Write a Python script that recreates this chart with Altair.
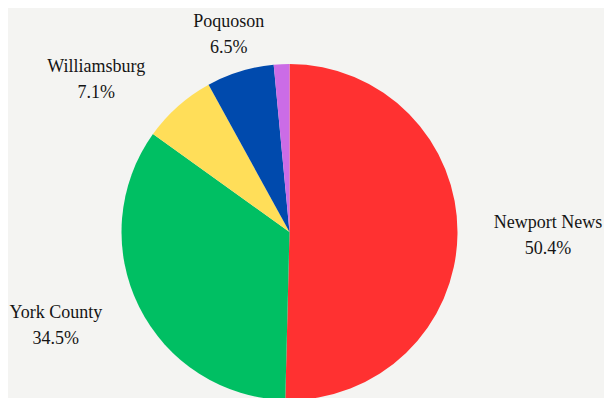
import math
import altair as alt
import pandas as pd

# ---- data ----
categories = ["Newport News", "York County", "Williamsburg", "Poquoson", "Other"]
shares = [50.4, 34.5, 7.1, 6.5, 1.5]
slice_order = [0, 1, 2, 3, 4]

colors = ["#FF3131", "#00BF63", "#FFDE59", "#004AAD", "#CB6CE6"]

df = pd.DataFrame({
    "cat": categories,
    "value": shares,
    "order": slice_order,
})

CX, CY, R = 281.5, 224, 168
FONT = "Liberation Serif, Times New Roman, DejaVu Serif, serif"

base = alt.Chart(df)

pie = base.mark_arc(outerRadius=R).encode(
    theta=alt.Theta("value:Q", stack=True),
    order=alt.Order("order:Q"),
    color=alt.Color("cat:N", scale=alt.Scale(domain=categories, range=colors), legend=None),
    x=alt.value(CX),
    y=alt.value(CY),
)

# label placement (radius from centre, fine offsets) per category
label_style = {
    "Newport News": (263.5, -5, -12),
    "York County": (251, -9, -31),
    "Williamsburg": (247.5, -29, 20),
    "Poquoson": (207, 0, -12),
}

layers = [pie]
for cat, (rad, ddx, ddy) in label_style.items():
    t = (
        base.transform_window(
            cum="sum(value)", sort=[alt.SortField("order")], frame=[None, 0]
        )
        .transform_calculate(
            mid="datum.cum - datum.value / 2",
            label="datum.cat + '\\n' + format(datum.value, '.1f') + '%'",
        )
        .transform_filter(alt.datum.cat == cat)
        .mark_text(
            radius=rad, dx=ddx, dy=ddy, font=FONT, fontSize=18, lineHeight=26,
            lineBreak="\n", align="center", baseline="middle", color="#151515",
        )
        .encode(
            theta=alt.Theta("mid:Q", scale=alt.Scale(domain=[0, 100], range=[0, 2 * math.pi])),
            text="label:N",
            x=alt.value(CX),
            y=alt.value(CY),
        )
    )
    layers.append(t)

chart = (
    alt.layer(*layers)
    .resolve_scale(theta="independent")
    .properties(width=596, height=390, padding=0, autosize=alt.AutoSizeParams(type="none"))
    .configure(background="#F4F4F2", font=FONT)
    .configure_view(stroke=None)
)

chart.save("out.html", embed_options={"renderer": "svg", "actions": False})
